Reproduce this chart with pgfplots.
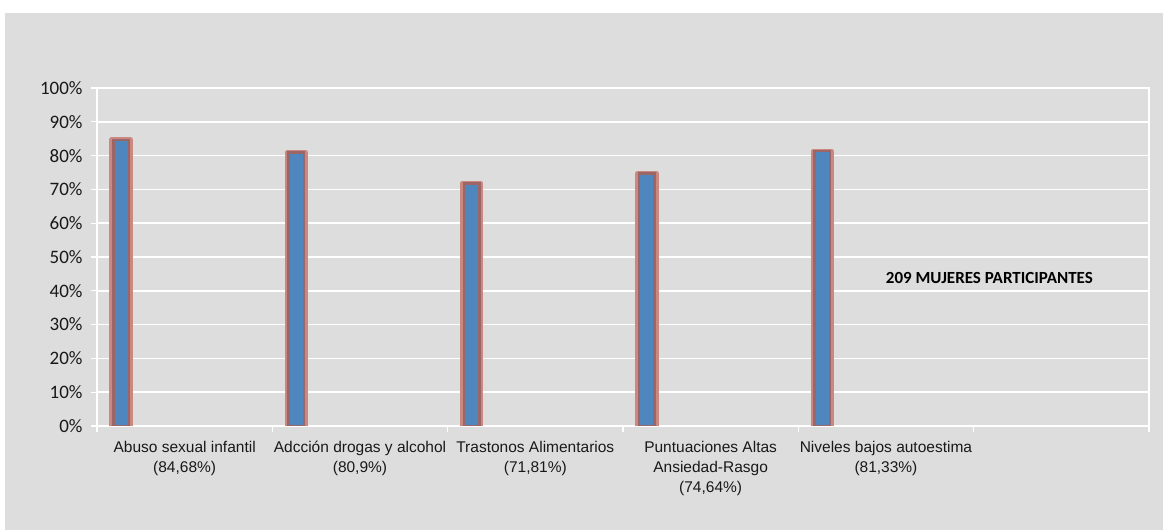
\documentclass[border=0pt]{standalone}
\usepackage{pgfplots}
\pgfplotsset{compat=1.18}
\usepackage{fontspec}
\setmainfont{Liberation Sans}
\newfontfamily\calibri{Carlito}
\definecolor{bg}{RGB}{221,221,221}
\definecolor{barblue}{RGB}{79,134,189}
\definecolor{bordlight}{RGB}{201,136,128}
\definecolor{borddark}{RGB}{156,102,102}
\begin{document}
\begin{tikzpicture}
\useasboundingbox (0,0) rectangle (1163bp,530bp);
\fill[white] (0,0) rectangle (1163bp,530bp);
\fill[bg] (5bp,0) rectangle (1163bp,517bp);
\begin{axis}[
  at={(97bp,104bp)}, anchor=south west,
  scale only axis, width=1052bp, height=338bp,
  xmin=0, xmax=6, ymin=0, ymax=100,
  axis line style={draw=white, line width=1.2bp},
  /pgf/number format/assume math mode=true,
  ytick={0,10,...,100},
  yticklabel={\pgfmathprintnumber{\tick}\%},
  yticklabel style={font=\calibri\fontsize{19bp}{20bp}\selectfont, text=black!90, xshift=-5bp},
  ymajorgrids, grid style={white, line width=1.5bp},
  xtick={0,1,...,6},
  xticklabels={},
  extra x ticks={0.5,1.5,2.5,3.5,4.5},
  extra x tick labels={{Abuso sexual infantil\\(84,68\%)},{Adcción drogas y alcohol\\(80,9\%)},{Trastonos Alimentarios\\(71,81\%)},{Puntuaciones Altas\\Ansiedad-Rasgo\\(74,64\%)},{Niveles bajos autoestima\\(81,33\%)}},
  extra x tick style={major tick length=0pt, xticklabel style={align=center, font=\fontsize{15.5bp}{20bp}\selectfont, text=black!90, yshift=-12bp}},
  xtick pos=lower, ytick pos=left,
  tick align=outside,
  major tick length=6bp,
  tick style={white, line width=1.2bp},
]
\addplot[ybar, bar width=18.5bp, bar shift=0pt, fill=bordlight, draw=bordlight, line width=5bp, line join=round]
  coordinates {(0.137,84.68) (1.137,80.9) (2.137,71.81) (3.137,74.64) (4.137,81.33)};
\addplot[ybar, bar width=15.5bp, bar shift=0pt, fill=barblue, draw=borddark, line width=2.5bp]
  coordinates {(0.137,84.68) (1.137,80.9) (2.137,71.81) (3.137,74.64) (4.137,81.33)};
\node[font=\calibri\bfseries\fontsize{17bp}{20bp}\selectfont] at (axis cs:5.09,43.8) {209 MUJERES PARTICIPANTES};
\end{axis}
\end{tikzpicture}
\end{document}
